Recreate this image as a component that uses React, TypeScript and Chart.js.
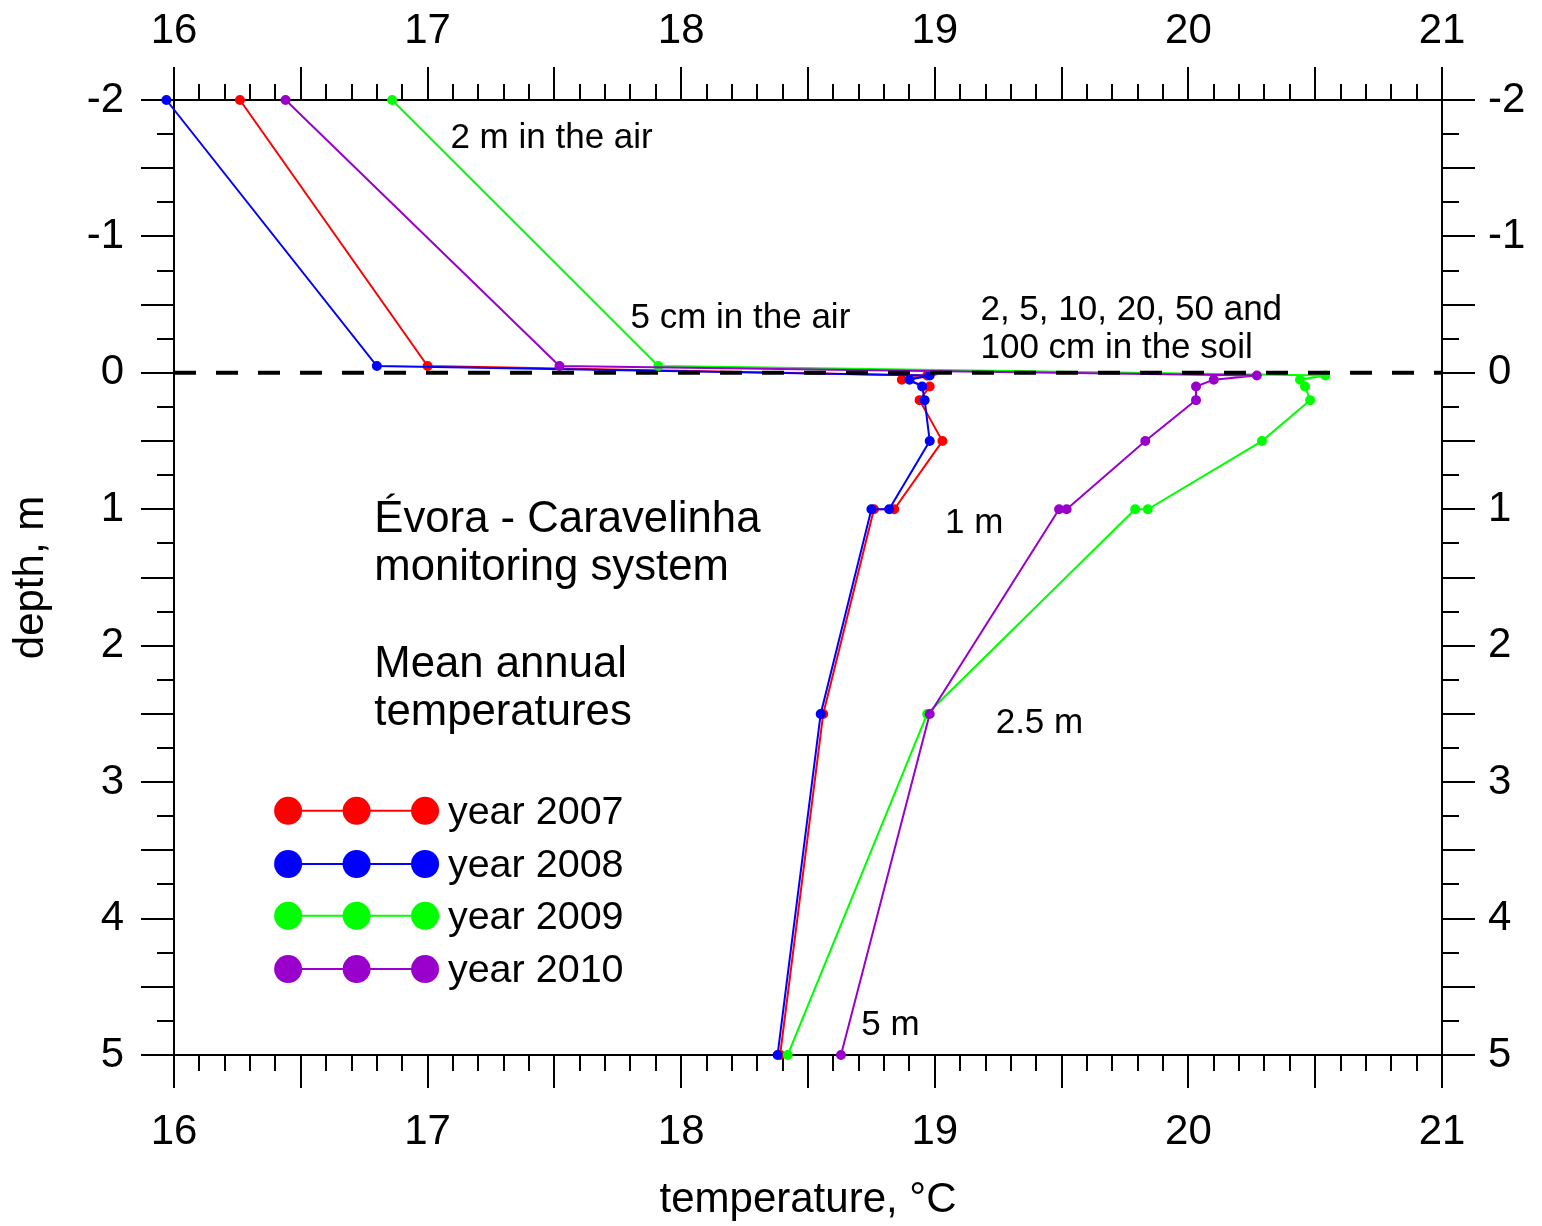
import { useEffect, useRef } from "react";
import { Chart, registerables } from "chart.js";

Chart.register(...registerables);

const FONT = '"Liberation Sans", Arial, Helvetica, sans-serif';

// Sensor depths in metres (negative = above ground); two sensors sit at 1 m.
const depths = [-2, -0.05, 0.02, 0.05, 0.1, 0.2, 0.5, 1.0, 1.0, 2.5, 5];

// Mean annual temperatures (°C) at each depth.
const temps2007 = [16.26, 17.0, 18.97, 18.87, 18.98, 18.94, 19.03, 18.84, 18.76, 18.56, 18.39];
const temps2008 = [15.97, 16.8, 18.98, 18.9, 18.95, 18.96, 18.98, 18.82, 18.75, 18.55, 18.38];
const temps2009 = [16.86, 17.91, 20.54, 20.44, 20.46, 20.48, 20.29, 19.84, 19.79, 18.97, 18.42];
const temps2010 = [16.44, 17.52, 20.27, 20.1, 20.03, 20.03, 19.83, 19.52, 19.49, 18.98, 18.63];

const seriesNames = ["year 2007", "year 2008", "year 2009", "year 2010"];
const seriesTemps = [temps2007, temps2008, temps2009, temps2010];
const seriesColors = ["#ff0000", "#0000ff", "#00ff00", "#9900cc"];

const xRange = [16, 21];
const yRange = [-2, 5];
const xTickLabels = [16, 17, 18, 19, 20, 21];
const yTickLabels = [-2, -1, 0, 1, 2, 3, 4, 5];

// Text notes placed in data coordinates (left edge, vertical centre).
const noteTexts = [
  "2 m in the air",
  "5 cm in the air",
  "2, 5, 10, 20, 50 and",
  "100 cm in the soil",
  "1 m",
  "2.5 m",
  "5 m",
];
const noteX = [17.09, 17.8, 19.18, 19.18, 19.04, 19.24, 18.71];
const noteY = [-1.72, -0.4, -0.46, -0.18, 1.1, 2.57, 4.78];

const titleLines = ["Évora - Caravelinha", "monitoring system", "Mean annual", "temperatures"];
const titleLineY = [1.08, 1.43, 2.14, 2.49];
const titleX = 16.79;

// Legend rows: sample markers and label position in data coordinates.
const legendRowY = [3.21, 3.6, 3.98, 4.37];
const legendMarkerX = [16.45, 16.72, 16.99];
const legendTextX = 17.08;

const frameAndTicks = {
  id: "frameAndTicks",
  beforeDatasetsDraw(chart: any) {
    const { ctx, chartArea: a, scales } = chart;
    const xs = scales.x;
    const ys = scales.y;
    ctx.save();
    ctx.strokeStyle = "#000";
    ctx.lineWidth = 2;
    ctx.strokeRect(a.left, a.top, a.right - a.left, a.bottom - a.top);
    ctx.beginPath();
    const nx = Math.round((xRange[1] - xRange[0]) / 0.1);
    for (let i = 0; i <= nx; i++) {
      const px = Math.round(xs.getPixelForValue(xRange[0] + i * 0.1));
      const len = i % 5 === 0 ? 33 : 16;
      ctx.moveTo(px, a.bottom);
      ctx.lineTo(px, a.bottom + len);
      ctx.moveTo(px, a.top);
      ctx.lineTo(px, a.top - len);
    }
    const ny = Math.round((yRange[1] - yRange[0]) / 0.25);
    for (let i = 0; i <= ny; i++) {
      const py = Math.round(ys.getPixelForValue(yRange[0] + i * 0.25));
      const len = i % 2 === 0 ? 33 : 17;
      ctx.moveTo(a.left - len, py);
      ctx.lineTo(a.left, py);
      ctx.moveTo(a.right, py);
      ctx.lineTo(a.right + len, py);
    }
    ctx.stroke();
    ctx.restore();
  },
};

const notesAndLegend = {
  id: "notesAndLegend",
  afterDraw(chart: any) {
    const { ctx, scales } = chart;
    const xs = scales.x;
    const ys = scales.y;
    ctx.save();
    ctx.fillStyle = "#000";
    ctx.textAlign = "left";
    ctx.textBaseline = "middle";

    ctx.font = `35px ${FONT}`;
    noteTexts.forEach((t, i) => {
      ctx.fillText(t, xs.getPixelForValue(noteX[i]), ys.getPixelForValue(noteY[i]));
    });

    ctx.font = `43.7px ${FONT}`;
    titleLines.forEach((t, i) => {
      ctx.fillText(t, xs.getPixelForValue(titleX), ys.getPixelForValue(titleLineY[i]));
    });

    ctx.font = `39.5px ${FONT}`;
    seriesNames.forEach((name, i) => {
      const py = ys.getPixelForValue(legendRowY[i]);
      const x0 = xs.getPixelForValue(legendMarkerX[0]);
      const x1 = xs.getPixelForValue(legendMarkerX[legendMarkerX.length - 1]);
      ctx.strokeStyle = seriesColors[i];
      ctx.lineWidth = 2;
      ctx.beginPath();
      ctx.moveTo(x0, py);
      ctx.lineTo(x1, py);
      ctx.stroke();
      ctx.fillStyle = seriesColors[i];
      legendMarkerX.forEach((mx) => {
        ctx.beginPath();
        ctx.arc(xs.getPixelForValue(mx), py, 14, 0, Math.PI * 2);
        ctx.fill();
      });
      ctx.fillStyle = "#000";
      ctx.fillText(name, xs.getPixelForValue(legendTextX), py + 2);
    });
    ctx.restore();
  },
};

export default function App() {
  const canvasRef = useRef<HTMLCanvasElement | null>(null);

  useEffect(() => {
    const canvas = canvasRef.current;
    if (!canvas) return;

    // Markers use a small radius with a thick border of the same colour,
    // so points just outside the frame are still drawn.
    const seriesDatasets = seriesNames.map((name, i) => ({
      type: "line" as const,
      label: name,
      data: depths.map((d, k) => ({ x: seriesTemps[i][k], y: d })),
      borderColor: seriesColors[i],
      backgroundColor: seriesColors[i],
      pointBorderColor: seriesColors[i],
      pointBackgroundColor: seriesColors[i],
      borderWidth: 2,
      pointRadius: 2,
      pointBorderWidth: 6,
      pointHoverRadius: 2,
      tension: 0,
      clip: false as const,
      order: 4 - i,
      xAxisID: "x",
      yAxisID: "y",
    }));

    const groundLine = {
      type: "line" as const,
      label: "ground",
      data: [
        { x: xRange[0], y: 0 },
        { x: xRange[1], y: 0 },
      ],
      borderColor: "#000",
      borderWidth: 4,
      borderDash: [22, 20],
      pointRadius: 0,
      order: 0,
      xAxisID: "x",
      yAxisID: "y",
    };

    const tickFont = { family: FONT, size: 42 };
    const noGrid = { display: false };
    const noBorder = { display: false };

    const chart = new Chart(canvas, {
      type: "line",
      data: { datasets: [...seriesDatasets, groundLine] },
      options: {
        animation: false,
        responsive: false,
        maintainAspectRatio: false,
        events: [],
        layout: { padding: 0 },
        plugins: { legend: { display: false }, tooltip: { enabled: false } },
        scales: {
          x: {
            type: "linear",
            position: "bottom",
            min: xRange[0],
            max: xRange[1],
            grid: noGrid,
            border: noBorder,
            afterBuildTicks: (s: any) => {
              s.ticks = xTickLabels.map((v) => ({ value: v }));
            },
            ticks: { font: tickFont, color: "#000", padding: 44, maxRotation: 0, autoSkip: false },
            title: {
              display: true,
              text: "temperature, °C",
              font: { family: FONT, size: 42 },
              color: "#000",
              padding: { top: 0, bottom: 0 },
            },
            afterFit: (s: any) => {
              s.height = 171;
            },
          },
          x2: {
            type: "linear",
            position: "top",
            min: xRange[0],
            max: xRange[1],
            grid: noGrid,
            border: noBorder,
            afterBuildTicks: (s: any) => {
              s.ticks = xTickLabels.map((v) => ({ value: v }));
            },
            ticks: { font: tickFont, color: "#000", padding: 35, maxRotation: 0, autoSkip: false },
            afterFit: (s: any) => {
              s.height = 100;
            },
          },
          y: {
            type: "linear",
            position: "left",
            min: yRange[0],
            max: yRange[1],
            reverse: true,
            grid: noGrid,
            border: noBorder,
            afterBuildTicks: (s: any) => {
              s.ticks = yTickLabels.map((v) => ({ value: v }));
            },
            ticks: { font: tickFont, color: "#000", padding: 42, autoSkip: false },
            title: {
              display: true,
              text: "depth, m",
              font: { family: FONT, size: 42 },
              color: "#000",
              padding: { top: 6, bottom: 0 },
            },
            afterFit: (s: any) => {
              s.width = 174;
            },
          },
          y2: {
            type: "linear",
            position: "right",
            min: yRange[0],
            max: yRange[1],
            reverse: true,
            grid: noGrid,
            border: noBorder,
            afterBuildTicks: (s: any) => {
              s.ticks = yTickLabels.map((v) => ({ value: v }));
            },
            ticks: { font: tickFont, color: "#000", padding: 38, autoSkip: false },
            afterFit: (s: any) => {
              s.width = 100;
            },
          },
        },
      } as any,
      plugins: [frameAndTicks, notesAndLegend],
    });

    return () => chart.destroy();
  }, []);

  return (
    <div style={{ position: "fixed", left: 0, top: 0, width: 1542, height: 1226, background: "#fff" }}>
      <canvas ref={canvasRef} width={1542} height={1226} style={{ display: "block" }} />
    </div>
  );
}
